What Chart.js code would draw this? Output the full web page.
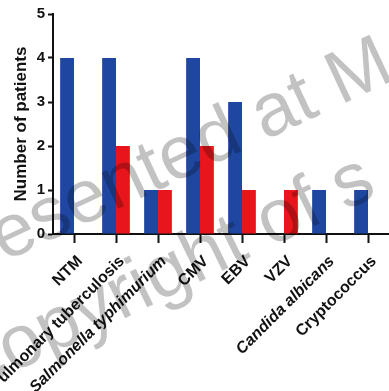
<!DOCTYPE html>
<html>
<head>
<meta charset="utf-8">
<script src="https://cdn.jsdelivr.net/npm/chart.js@4/dist/chart.umd.min.js"></script>
<style>
  html, body { margin: 0; padding: 0; background: #ffffff; overflow: hidden; }
  #wrap { width: 389px; height: 391px; position: relative; }
</style>
</head>
<body>
<div id="wrap"><canvas id="c"></canvas></div>
<script>
// Pathogens identified, grouped bars per pathogen
const categories = [
  'NTM',
  'Pulmonary tuberculosis',
  'Salmonella typhimurium',
  'CMV',
  'EBV',
  'VZV',
  'Candida albicans',
  'Cryptococcus'
];
const blueSeries = [4, 4, 1, 4, 3, 0, 1, 1];
const redSeries  = [0, 2, 1, 2, 1, 1, 0, 0];
const yTicks = [0, 1, 2, 3, 4, 5];
const yTitle = 'Number of patients';
const watermarkLines = ['Presented at M', 'copyright of s'];

const italicLabels = new Set(['Salmonella typhimurium', 'Candida albicans']);

const BLUE = '#1f47a2';
const RED = '#e8161c';
const FONT = "'Liberation Sans', Arial, Helvetica, sans-serif";

// Semi-transparent diagonal watermark drawn over the plot
const watermark = {
  id: 'watermark',
  afterDraw(chart) {
    const ctx = chart.ctx;
    ctx.save();
    ctx.font = '75px ' + FONT;
    ctx.fillStyle = 'rgba(0,0,0,0.24)';
    ctx.textAlign = 'left';
    ctx.textBaseline = 'alphabetic';
    // first line: anchor the "e" after "Pr"
    const lead = ctx.measureText('Pr').width;
    ctx.save();
    ctx.translate(4, 262);
    ctx.rotate(-25 * Math.PI / 180);
    ctx.fillText(watermarkLines[0], -lead, 0);
    ctx.restore();
    ctx.save();
    ctx.translate(-22, 390);
    ctx.rotate(-26 * Math.PI / 180);
    ctx.fillText(watermarkLines[1], 0, 0);
    ctx.restore();
    ctx.restore();
  }
};

new Chart(document.getElementById('c'), {
  type: 'bar',
  data: {
    labels: categories,
    datasets: [
      { data: blueSeries, backgroundColor: BLUE, borderWidth: 0,
        barPercentage: 1.0, categoryPercentage: 0.66 },
      { data: redSeries, backgroundColor: RED, borderWidth: 0,
        barPercentage: 1.0, categoryPercentage: 0.66 }
    ]
  },
  options: {
    responsive: true,
    maintainAspectRatio: false,
    animation: false,
    layout: { padding: { top: 14, left: 0, right: 0, bottom: 0 } },
    plugins: {
      legend: { display: false },
      tooltip: { enabled: false }
    },
    scales: {
      x: {
        offset: true,
        grid: {
          offset: false,
          drawOnChartArea: false,
          drawTicks: true,
          // tick slot a little longer than the visible mark
          tickLength: 12,
          tickBorderDash: [8, 40],
          tickWidth: 2,
          tickColor: '#111'
        },
        border: { display: true, color: '#111', width: 2 },
        ticks: {
          autoSkip: false,
          minRotation: 45,
          maxRotation: 45,
          padding: 6,
          labelOffset: 6,
          color: '#111',
          font: (c) => ({
            family: FONT,
            size: 16,
            weight: 'bold',
            style: italicLabels.has(categories[c.index]) ? 'italic' : 'normal'
          })
        },
        afterFit(scale) { scale.height = 157; }
      },
      y: {
        min: 0,
        max: 5,
        afterBuildTicks(scale) { scale.ticks = yTicks.map(v => ({ value: v })); },
        grid: {
          drawOnChartArea: false,
          drawTicks: true,
          tickLength: 5,
          tickWidth: 2,
          tickColor: '#111'
        },
        border: { display: true, color: '#111', width: 2 },
        ticks: {
          padding: 3,
          color: '#111',
          font: { family: FONT, size: 15, weight: 'bold' }
        },
        title: {
          display: true,
          text: yTitle,
          color: '#111',
          padding: { top: 11, bottom: 0 },
          font: { family: FONT, size: 17, weight: 'bold' }
        },
        afterFit(scale) { scale.width = 53; }
      }
    }
  },
  plugins: [watermark]
});
</script>
</body>
</html>
